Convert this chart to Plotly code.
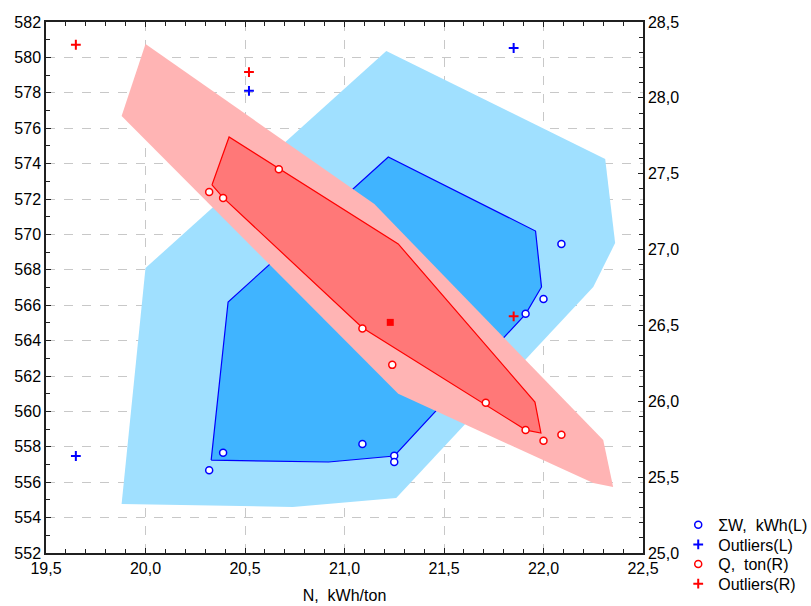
import plotly.graph_objects as go

# ---- data -------------------------------------------------------------
# Specific energy N (kWh/ton) against total energy ΣW (left axis) and output Q (right axis)
x_w = [20.32, 20.39, 21.09, 21.25, 21.25, 21.91, 22.00, 22.09]
w_vals = [556.67, 557.67, 558.16, 557.50, 557.14, 565.52, 566.35, 569.46]

x_w_out = [19.65, 20.52, 21.85]
w_out = [557.48, 578.11, 580.53]

x_q = [20.32, 20.39, 20.67, 21.09, 21.24, 21.71, 21.91, 22.00, 22.09]
q_vals = [27.38, 27.34, 27.53, 26.48, 26.24, 25.99, 25.81, 25.74, 25.78]

x_q_out = [19.65, 20.52, 21.85]
q_out = [28.35, 28.17, 26.56]

q_median_x = [21.23]
q_median_y = [26.52]

# bag-plot polygons (fence = outer loop, bag = inner hull)
w_fence_x = [19.88, 20.00, 21.21, 22.31, 22.36, 22.25, 21.26, 20.74]
w_fence_y = [554.77, 568.10, 580.36, 574.26, 569.51, 567.03, 555.11, 554.60]
w_bag_x = [20.33, 20.415, 21.22, 21.96, 21.99, 21.91, 21.25, 20.92]
w_bag_y = [557.25, 566.18, 574.37, 570.19, 567.03, 565.50, 557.48, 557.14]

q_fence_x = [19.88, 20.00, 21.15, 22.30, 22.35, 22.25, 21.27]
q_fence_y = [27.88, 28.355, 27.30, 25.744, 25.435, 25.461, 26.05]
q_bag_x = [20.334, 20.42, 21.27, 21.957, 21.987, 21.912, 21.09, 20.39]
q_bag_y = [27.426, 27.742, 27.037, 25.995, 25.791, 25.810, 26.485, 27.342]

x_ticks = [19.5, 20.0, 20.5, 21.0, 21.5, 22.0, 22.5]
y_ticks = list(range(552, 583, 2))
y2_ticks = [25.0, 25.5, 26.0, 26.5, 27.0, 27.5, 28.0, 28.5]

# legend rows (paper y of each entry)
legend_rows = [0.053, 0.016, -0.021, -0.058]


def comma(v, nd=1):
    return f"{v:.{nd}f}".replace(".", ",")


BLUE = "#0000FF"
RED = "#FF0000"
FONT = "Liberation Sans, Arial, sans-serif"
FS = 16

fig = go.Figure()


def closed(xs, ys):
    return xs + [xs[0]], ys + [ys[0]]


# ΣW bag plot (left axis)
fx, fy = closed(w_fence_x, w_fence_y)
fig.add_trace(go.Scatter(x=fx, y=fy, mode="lines", fill="toself",
                         fillcolor="#A0E0FF", line=dict(width=0, color="#A0E0FF"),
                         showlegend=False, hoverinfo="skip"))
bx, by = closed(w_bag_x, w_bag_y)
fig.add_trace(go.Scatter(x=bx, y=by, mode="lines", fill="toself",
                         fillcolor="#40B4FF", line=dict(width=1.2, color=BLUE),
                         showlegend=False, hoverinfo="skip"))

# Q bag plot (right axis)
fx, fy = closed(q_fence_x, q_fence_y)
fig.add_trace(go.Scatter(x=fx, y=fy, yaxis="y2", mode="lines", fill="toself",
                         fillcolor="#FFB4B4", line=dict(width=0, color="#FFB4B4"),
                         showlegend=False, hoverinfo="skip"))
bx, by = closed(q_bag_x, q_bag_y)
fig.add_trace(go.Scatter(x=bx, y=by, yaxis="y2", mode="lines", fill="toself",
                         fillcolor="#FF7878", line=dict(width=1.2, color=RED),
                         showlegend=False, hoverinfo="skip"))

# points, each series with its own legend row
fig.add_trace(go.Scatter(x=x_w, y=w_vals, mode="markers", name="ΣW,  kWh(L)",
                         legend="legend",
                         marker=dict(symbol="circle", size=7, color="white",
                                     line=dict(color=BLUE, width=1.5))))
fig.add_trace(go.Scatter(x=x_w_out, y=w_out, mode="markers", name="Outliers(L)",
                         legend="legend2",
                         marker=dict(symbol="cross-thin", size=7, color=BLUE,
                                     line=dict(color=BLUE, width=2))))
fig.add_trace(go.Scatter(x=x_q, y=q_vals, yaxis="y2", mode="markers", name="Q,  ton(R)",
                         legend="legend3",
                         marker=dict(symbol="circle", size=7, color="white",
                                     line=dict(color=RED, width=1.5))))
fig.add_trace(go.Scatter(x=x_q_out, y=q_out, yaxis="y2", mode="markers", name="Outliers(R)",
                         legend="legend4",
                         marker=dict(symbol="cross-thin", size=7, color=RED,
                                     line=dict(color=RED, width=2))))
fig.add_trace(go.Scatter(x=q_median_x, y=q_median_y, yaxis="y2", mode="markers",
                         marker=dict(symbol="square", size=7, color=RED),
                         showlegend=False, hoverinfo="skip"))

axis_common = dict(
    showline=True, linecolor="#202020", linewidth=1.5,
    ticks="inside", ticklen=5, tickcolor="#202020", tickwidth=1,
    tickfont=dict(family=FONT, size=FS, color="black"),
    zeroline=False,
)


def legend_at(yv):
    return dict(x=1.059, y=yv, xanchor="left", yanchor="middle",
                font=dict(family=FONT, size=FS, color="black"),
                bgcolor="rgba(0,0,0,0)", itemwidth=30)


fig.update_layout(
    width=811, height=606,
    margin=dict(l=46, r=168, t=22, b=53, autoexpand=False),
    paper_bgcolor="white", plot_bgcolor="white",
    font=dict(family=FONT, size=FS, color="black"),
    xaxis=dict(
        range=[19.5, 22.5], tickvals=x_ticks, ticktext=[comma(v) for v in x_ticks],
        mirror="ticks", showgrid=True, gridcolor="#C8C8C8", griddash="dash", gridwidth=1,
        minor=dict(dtick=0.1, ticks="inside", ticklen=4, tickcolor="#202020", showgrid=False),
        title=dict(text="N,  kWh/ton", font=dict(family=FONT, size=FS), standoff=14),
        **axis_common,
    ),
    yaxis=dict(
        range=[552, 582], tickvals=y_ticks, ticktext=[str(v) for v in y_ticks],
        showgrid=True, gridcolor="#C8C8C8", griddash="dash", gridwidth=1,
        minor=dict(dtick=1, ticks="inside", ticklen=4, tickcolor="#202020", showgrid=False),
        **axis_common,
    ),
    yaxis2=dict(
        range=[25.0, 28.5], overlaying="y", side="right",
        tickvals=y2_ticks, ticktext=[comma(v) for v in y2_ticks],
        showgrid=False,
        minor=dict(dtick=0.1, ticks="inside", ticklen=4, tickcolor="#202020", showgrid=False),
        **axis_common,
    ),
    legend=legend_at(legend_rows[0]),
    legend2=legend_at(legend_rows[1]),
    legend3=legend_at(legend_rows[2]),
    legend4=legend_at(legend_rows[3]),
)

fig.write_html("out.html")
